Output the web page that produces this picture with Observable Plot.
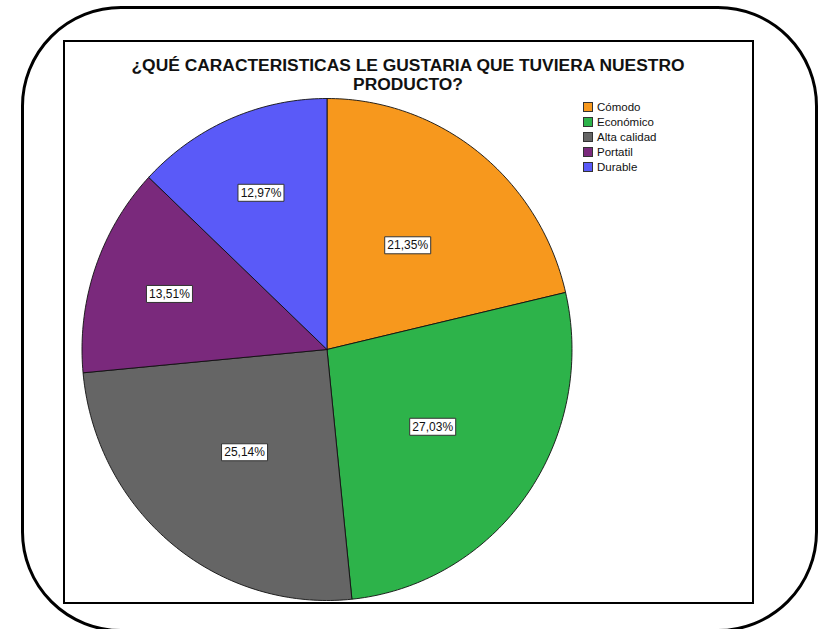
<!DOCTYPE html>
<html>
<head>
<meta charset="utf-8">
<script src="https://cdn.jsdelivr.net/npm/d3@7"></script>
<script src="https://cdn.jsdelivr.net/npm/@observablehq/plot@0.6"></script>
<style>
  html, body { margin: 0; padding: 0; background: #fff; overflow: hidden; }
  #wrap { position: relative; width: 823px; height: 629px; overflow: hidden; font-family: "Liberation Sans", Arial, sans-serif; }
  #outer { position: absolute; left: 21px; top: 6px; width: 797px; height: 626px; box-sizing: border-box; border: 3px solid #000; border-radius: 100px; }
  #inner { position: absolute; left: 63px; top: 40px; width: 691px; height: 564px; box-sizing: border-box; border: 2.5px solid #000; }
  #chart { position: absolute; left: 0; top: 0; }
  #title { position: absolute; left: 58px; width: 700px; top: 56px; text-align: center; font-weight: bold; font-size: 17.4px; line-height: 19px; color: #111; }
  #legend { position: absolute; left: 583px; top: 99px; font-size: 11.5px; color: #111; }
  .item { display: flex; align-items: center; height: 15.2px; }
  .sw { width: 10px; height: 10px; box-sizing: border-box; border: 1px solid #333; margin-right: 4px; }
</style>
</head>
<body>
<div id="wrap">
  <div id="outer"></div>
  <div id="inner"></div>
  <div id="chart"></div>
  <div id="title"></div>
  <div id="legend"></div>
</div>
<script>
const titleLines = ["¿QUÉ CARACTERISTICAS LE GUSTARIA QUE TUVIERA NUESTRO", "PRODUCTO?"];
const categories = ["Cómodo", "Económico", "Alta calidad", "Portatil", "Durable"];
const percents = [21.35, 27.03, 25.14, 13.51, 12.97];
const colors = ["#F7981D", "#2DB34A", "#656565", "#7A297C", "#5A5AF8"];

// Build slice polygons (clockwise from 12 o'clock)
const slicePts = [];
const labelData = [];
let acc = 0;
categories.forEach((c, i) => {
  const a0 = acc / 100 * 2 * Math.PI;
  acc += percents[i];
  const a1 = acc / 100 * 2 * Math.PI;
  slicePts.push({cat: c, x: 0, y: 0});
  const n = Math.max(2, Math.ceil((a1 - a0) / (Math.PI / 180)));
  for (let k = 0; k <= n; k++) {
    const a = a0 + (a1 - a0) * k / n;
    slicePts.push({cat: c, x: Math.sin(a), y: Math.cos(a)});
  }
  slicePts.push({cat: c, x: 0, y: 0});
  const mid = (a0 + a1) / 2;
  const lr = percents[i] < 15 ? 0.68 : 0.53;
  labelData.push({cat: c, x: lr * Math.sin(mid), y: lr * Math.cos(mid),
    text: percents[i].toFixed(2).replace(".", ",") + "%"});
});

const boxSymbol = { draw(ctx) { ctx.rect(-23, -8.5, 46, 17); } };

const W = 823, H = 629;
const cx = 326.5, cy = 349, rx = 245, ry = 251;

const plot = Plot.plot({
  width: W,
  height: H,
  marginLeft: cx - rx,
  marginRight: W - (cx + rx),
  marginTop: cy - ry,
  marginBottom: H - (cy + ry),
  x: {domain: [-1, 1], axis: null},
  y: {domain: [-1, 1], axis: null},
  color: {domain: categories, range: colors},
  style: {background: "transparent", fontFamily: "'Liberation Sans', Arial, sans-serif", overflow: "visible"},
  marks: [
    Plot.line(slicePts, {x: "x", y: "y", z: "cat", fill: "cat", stroke: "#111", strokeWidth: 0.9, curve: "linear"}),
    Plot.dot(labelData, {x: "x", y: "y", symbol: boxSymbol, r: 5, fill: "white", stroke: "#333", strokeWidth: 1}),
    Plot.text(labelData, {x: "x", y: "y", text: "text", fontSize: 12, fill: "#111"})
  ]
});
document.getElementById("chart").appendChild(plot);

document.getElementById("title").innerHTML = titleLines.map(t => `<div>${t}</div>`).join("");
document.getElementById("legend").innerHTML = categories.map((c, i) =>
  `<div class="item"><div class="sw" style="background:${colors[i]}"></div><span>${c}</span></div>`).join("");
</script>
</body>
</html>
